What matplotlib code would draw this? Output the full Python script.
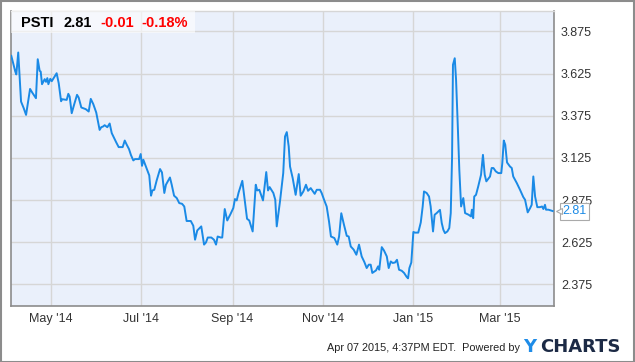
import pandas as pd
import matplotlib
matplotlib.use("Agg")
import matplotlib.pyplot as plt
import matplotlib.dates as mdates
import matplotlib.transforms as mtransforms
from matplotlib.patches import Rectangle

# price series, days counted from 2014-04-04
start = pd.Timestamp("2014-04-04")
days = [0.2, 2.9, 3.6, 4.9, 6.8, 8.6, 10.2, 12.9, 14.4, 16.9, 18.1, 19.4, 20.1, 21.0,
        22.8, 23.7, 24.6, 25.3, 26.6, 27.6, 29.1, 30.9, 32.3, 33.9, 34.7, 37.7, 38.8,
        39.7, 41.1, 42.7, 44.7, 45.8, 47.6, 50.6, 52.6, 54.0, 55.7, 57.7, 60.0, 61.1,
        62.3, 63.4, 65.2, 66.8, 68.2, 69.5, 71.3, 72.9, 75.6, 77.0, 78.3, 79.9, 81.2,
        82.8, 83.9, 86.7, 87.8, 88.7, 89.6, 90.9, 92.1, 93.6, 94.8, 95.7, 97.0, 98.6,
        100.9, 102.2, 103.8, 104.9, 107.6, 108.8, 110.4, 112.2, 113.9, 115.8, 117.3,
        118.9, 121.7, 123.4, 124.6, 126.1, 128.8, 130.7, 132.0, 133.2, 135.6, 137.4,
        138.8, 139.9, 142.0, 143.0, 144.7, 146.4, 148.7, 150.5, 151.6, 152.8, 154.1,
        156.6, 157.9, 159.8, 161.3, 163.6, 165.7, 166.7, 168.1, 170.6, 172.8, 174.0,
        175.1, 177.6, 178.9, 179.9, 182.1, 184.3, 185.5, 186.7, 188.0, 188.9, 190.7,
        192.7, 194.8, 196.1, 197.9, 199.7, 201.1, 202.9, 205.6, 207.0, 209.2, 210.3,
        212.1, 213.7, 215.3, 216.6, 218.9, 220.9, 222.1, 223.6, 225.4, 227.3, 228.6,
        230.0, 232.0, 233.8, 235.6, 237.4, 239.2, 240.8, 242.2, 243.5, 244.6, 247.1,
        248.5, 249.3, 251.0, 252.5, 254.4, 255.7, 257.1, 258.4, 260.0, 261.3, 262.7,
        264.5, 266.1, 267.9, 268.8, 269.7, 271.0, 272.4, 273.5, 275.7, 277.4, 278.7,
        279.6, 281.4, 283.0, 284.1, 285.7, 286.8, 288.2, 290.4, 291.6, 292.7, 293.8,
        295.4, 296.7, 297.7, 298.6, 299.2, 300.4, 301.3, 302.4, 303.5, 304.7, 306.2,
        307.4, 309.8, 311.4, 312.0, 312.9, 313.6, 314.8, 316.3, 318.2, 319.5, 320.7,
        321.8, 324.3, 325.4, 326.6, 328.2, 329.9, 331.9, 332.6, 333.6, 334.6, 335.8,
        337.8, 339.0, 340.0, 342.4, 344.6, 346.8, 348.0, 349.8, 351.4, 352.5, 353.6,
        354.8, 356.3, 358.1, 359.5, 360.4, 361.5, 362.2, 363.8, 366.7]
prices = [3.73, 3.637, 3.62, 3.75, 3.459, 3.42, 3.38, 3.534, 3.512, 3.479, 3.71, 3.641,
          3.637, 3.562, 3.592, 3.576, 3.598, 3.562, 3.594, 3.58, 3.601, 3.627, 3.568,
          3.461, 3.473, 3.469, 3.505, 3.489, 3.39, 3.44, 3.499, 3.483, 3.424, 3.414,
          3.40, 3.475, 3.444, 3.394, 3.291, 3.307, 3.311, 3.319, 3.307, 3.329, 3.272,
          3.248, 3.216, 3.189, 3.189, 3.228, 3.204, 3.177, 3.142, 3.11, 3.118, 3.118,
          3.148, 3.078, 3.114, 3.084, 3.055, 3.021, 2.901, 2.932, 2.936, 2.991, 3.059,
          3.039, 2.917, 2.966, 3.009, 2.966, 2.901, 2.887, 2.857, 2.853, 2.837, 2.751,
          2.751, 2.723, 2.64, 2.695, 2.719, 2.611, 2.624, 2.653, 2.653, 2.64, 2.611,
          2.659, 2.653, 2.653, 2.822, 2.754, 2.794, 2.828, 2.881, 2.873, 2.92, 2.989,
          2.896, 2.764, 2.754, 2.689, 2.966, 2.932, 2.936, 2.873, 3.041, 2.932, 2.952,
          2.917, 2.877, 2.719, 2.867, 3.035, 3.252, 3.278, 3.193, 3.074, 3.005, 2.906,
          3.029, 2.901, 2.926, 2.966, 2.93, 2.946, 2.912, 2.936, 2.936, 2.917, 2.873,
          2.837, 2.748, 2.659, 2.65, 2.611, 2.659, 2.797, 2.729, 2.663, 2.659, 2.60,
          2.581, 2.551, 2.611, 2.541, 2.508, 2.472, 2.492, 2.492, 2.443, 2.458, 2.482,
          2.462, 2.596, 2.576, 2.541, 2.472, 2.511, 2.502, 2.505, 2.521, 2.462, 2.456,
          2.443, 2.419, 2.411, 2.472, 2.505, 2.686, 2.682, 2.682, 2.742, 2.837, 2.926,
          2.917, 2.896, 2.837, 2.689, 2.788, 2.798, 2.817, 2.739, 2.699, 2.679, 2.689,
          2.709, 2.798, 3.133, 3.677, 3.716, 3.588, 3.331, 3.055, 2.837, 2.887, 2.798,
          2.788, 2.778, 2.818, 2.768, 2.896, 2.906, 2.956, 3.025, 3.143, 3.025, 2.986,
          3.015, 3.065, 3.065, 3.045, 3.035, 3.035, 3.094, 3.228, 3.203, 3.098, 3.074,
          3.065, 3.015, 2.976, 2.936, 2.893, 2.877, 2.802, 2.827, 2.847, 3.015, 2.896,
          2.833, 2.833, 2.837, 2.822, 2.847, 2.818, 2.818, 2.81]

yticks = [2.375, 2.625, 2.875, 3.125, 3.375, 3.625, 3.875]
xticks = ["2014-05-01", "2014-07-01", "2014-09-01", "2014-11-01", "2015-01-01", "2015-03-01"]

ticker = "PSTI"
last = "2.81"
change = "-0.01"
pct = "-0.18%"
stamp = "Apr 07 2015, 4:37PM EDT.  Powered by"

LINE = "#1a8ae6"
GRID = "#d6d6d6"
FRAME = "#8c8c8c"

plt.rcParams["font.family"] = ["Liberation Sans", "DejaVu Sans"]

dates = start + pd.to_timedelta(days, unit="D")

fig = plt.figure(figsize=(6.35, 3.62), dpi=100)
ax = fig.add_axes([11 / 635, 56 / 362, 543 / 635, 295 / 362])
ax.set_facecolor("#eaf0fb")

ax.plot(dates, prices, color=LINE, lw=1.4, zorder=3)

ax.set_xlim(start, start + pd.Timedelta(days=367.6))
ax.set_ylim(2.247, 3.996)

ax.set_yticks(yticks)
ax.set_yticklabels(["%.3f" % v for v in yticks])
ax.yaxis.tick_right()
ax.set_xticks(pd.to_datetime(xticks))
ax.xaxis.set_major_formatter(mdates.DateFormatter("%b '%y"))
ax.tick_params(length=0, labelsize=9, colors="#333333")
ax.tick_params(axis="y", pad=5)
ax.tick_params(axis="x", pad=5)
ax.grid(True, color=GRID, lw=1.0, zorder=0)

for side in ["left", "bottom", "right"]:
    ax.spines[side].set_color(FRAME)
    ax.spines[side].set_linewidth(1.2)
ax.spines["top"].set_color(GRID)
ax.spines["top"].set_linewidth(1.0)

# header box with quote
ax.add_patch(Rectangle((0, 1 - 22 / 295), 184 / 543, 22 / 295, transform=ax.transAxes,
                       facecolor="white", alpha=0.6, edgecolor="none", zorder=4))
hy = 0.958
ax.text(10 / 543, hy, ticker, transform=ax.transAxes, fontsize=10.5, fontweight="bold",
        color="black", va="center", zorder=5)
ax.text(52 / 543, hy, last, transform=ax.transAxes, fontsize=10.5, fontweight="bold",
        color="black", va="center", zorder=5)
ax.text(89 / 543, hy, change, transform=ax.transAxes, fontsize=10.5, fontweight="bold",
        color="#ff0000", va="center", zorder=5)
ax.text(130 / 543, hy, pct, transform=ax.transAxes, fontsize=10.5, fontweight="bold",
        color="#ff0000", va="center", zorder=5)

# last value marker on the right axis
trans = mtransforms.blended_transform_factory(ax.transAxes, ax.transData)
ax.text(1.016, prices[-1], last, transform=trans, fontsize=9, color=LINE, va="center",
        ha="left", clip_on=False, zorder=6,
        bbox=dict(boxstyle="square,pad=0.2", facecolor="white", edgecolor="#aaaaaa", lw=0.8))
ax.plot([1.009], [prices[-1]], marker="<", ms=4, color="white", mec="#aaaaaa", mew=0.8,
        transform=trans, clip_on=False, zorder=7)

# footer
fig.text(520 / 635, 14 / 362, stamp, fontsize=7.8, color="#222222", ha="right", va="center")
fig.text(523 / 635, 14.5 / 362, "Y", fontsize=13, fontweight="bold", color="#1e8ce8",
         ha="left", va="center", family="DejaVu Sans")
fig.text(540 / 635, 14.5 / 362, "CHARTS", fontsize=13, fontweight="bold",
         color="#1c2a45", ha="left", va="center", family="DejaVu Sans")

# outer frame
fig.patches.append(Rectangle((0.5 / 635, 0.5 / 362), 633.5 / 635, 360.5 / 362,
                             transform=fig.transFigure, fill=False, edgecolor=FRAME, lw=1.5))

fig.savefig("out.png", dpi=100)
